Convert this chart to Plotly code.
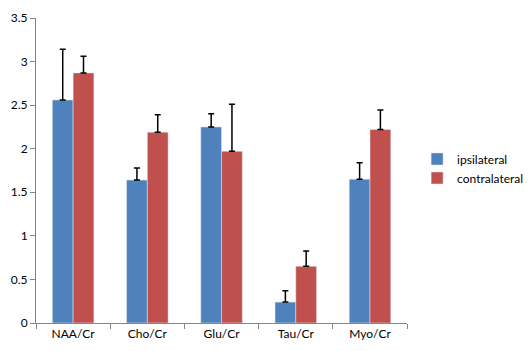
import plotly.graph_objects as go

categories = ["NAA/Cr", "Cho/Cr", "Glu/Cr", "Tau/Cr", "Myo/Cr"]
ipsi = [2.56, 1.64, 2.25, 0.24, 1.65]
ipsi_err = [0.58, 0.14, 0.15, 0.13, 0.19]
contra = [2.87, 2.19, 1.97, 0.65, 2.22]
contra_err = [0.19, 0.20, 0.54, 0.175, 0.225]
yticks = [0, 0.5, 1, 1.5, 2, 2.5, 3, 3.5]

fig = go.Figure()
fig.add_trace(go.Bar(
    x=categories, y=ipsi, name="ipsilateral", marker_color="#4F81BD",
    error_y=dict(type="data", array=ipsi_err, arrayminus=[0]*5, symmetric=False,
                 color="black", thickness=1.5, width=3)))
fig.add_trace(go.Bar(
    x=categories, y=contra, name="contralateral", marker_color="#C0504D",
    error_y=dict(type="data", array=contra_err, arrayminus=[0]*5, symmetric=False,
                 color="black", thickness=1.5, width=3)))

fig.update_layout(
    width=528, height=351,
    margin=dict(l=36, r=104, t=10, b=26),
    paper_bgcolor="white", plot_bgcolor="white",
    barmode="group", bargap=0.44, bargroupgap=0,
    font=dict(family="Lato, sans-serif", size=12, color="black"),
    legend=dict(xref="container", yref="container", x=0.79, y=0.52,
                xanchor="left", yanchor="middle",
                font=dict(size=12), itemwidth=30, tracegroupgap=0),
    showlegend=True,
)
fig.update_xaxes(showline=True, linecolor="#868686", linewidth=1,
                 ticks="outside", tickson="boundaries", ticklen=5, tickcolor="#868686",
                 showgrid=False)
fig.update_yaxes(range=[0, 3.5], tickvals=yticks, ticktext=[str(v) for v in yticks],
                 showline=True, linecolor="#868686", linewidth=1,
                 ticks="outside", ticklen=5, tickcolor="#868686",
                 showgrid=False, zeroline=False)

fig.write_html("out.html")
